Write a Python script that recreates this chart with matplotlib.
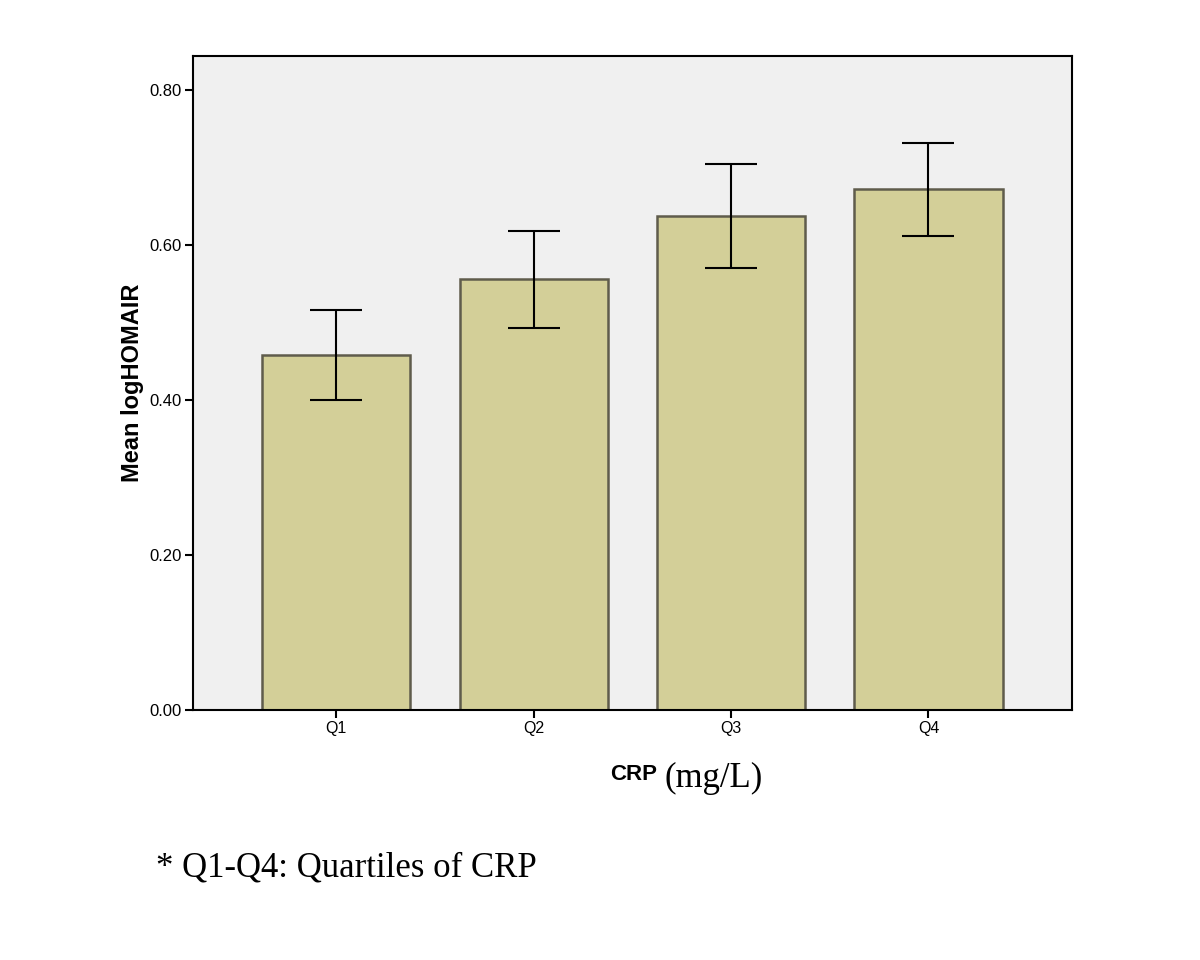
import numpy as np
import matplotlib.pyplot as plt

# data
groups = ['Q1', 'Q2', 'Q3', 'Q4']
means = [0.458, 0.556, 0.637, 0.672]
err_lo = [0.400, 0.493, 0.570, 0.612]
err_hi = [0.516, 0.618, 0.705, 0.732]
yticks = [0.0, 0.2, 0.4, 0.6, 0.8]

means = np.array(means)
yerr = np.array([means - np.array(err_lo), np.array(err_hi) - means])
pos = np.arange(len(groups))

fig = plt.figure(figsize=(12, 9.6), dpi=100)
ax = fig.add_axes([0.161, 0.2604, 0.732, 0.6813])
ax.set_facecolor('#f0f0f0')

ax.bar(pos, means, width=0.75, color='#d3cf98', edgecolor='#5f5c4c', linewidth=1.8, zorder=2)
ax.errorbar(pos, means, yerr=yerr, fmt='none', ecolor='black', elinewidth=1.5,
            capsize=19, capthick=1.5, zorder=3)

ax.set_xlim(-0.725, 3.725)
ax.set_ylim(0, 0.844)
ax.set_xticks(pos)
ax.set_xticklabels(groups, fontsize=11.5, family='Liberation Sans')
ax.set_yticks(yticks)
ax.set_yticklabels(['%.2f' % v for v in yticks], fontsize=12, family='Liberation Sans')
ax.tick_params(axis='both', length=6, width=1.5, pad=2)
for s in ax.spines.values():
    s.set_linewidth(1.5)
    s.set_color('black')

ax.set_ylabel('Mean logHOMAIR', fontsize=17, fontweight='bold', family='Liberation Sans', labelpad=4)

fig.text(0.548, 0.188, 'CRP', fontsize=16, fontweight='bold', family='Liberation Sans',
         ha='right', va='baseline')
fig.text(0.554, 0.180, '(mg/L)', fontsize=25, family='Liberation Serif', ha='left', va='baseline')
fig.text(0.13, 0.0865, '* Q1-Q4: Quartiles of CRP', fontsize=25, family='Liberation Serif',
         ha='left', va='baseline')

fig.savefig('out.png', dpi=100)
